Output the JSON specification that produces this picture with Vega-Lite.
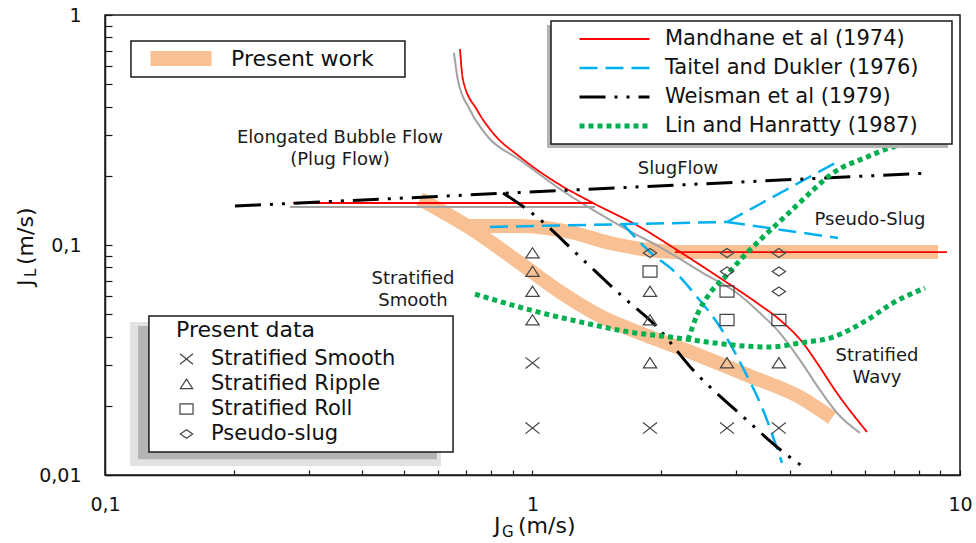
{
  "$schema": "https://vega.github.io/schema/vega-lite/v6.json",
  "width": 855,
  "height": 460,
  "autosize": {"type": "none"},
  "padding": {"left": 105, "top": 15, "right": 16, "bottom": 68},
  "background": "white",
  "config": {
    "view": {"stroke": "#1a1a1a", "strokeWidth": 1.5},
    "font": "DejaVu Sans",
    "axis": {"labelFont": "DejaVu Sans", "labelColor": "#111111", "labelFontSize": 19, "grid": false, "domainColor": "#1a1a1a", "domainWidth": 1.5, "tickColor": "#1a1a1a", "tickWidth": 1.2, "labelFlush": false, "labelOverlap": false, "labelBound": false},
    "legend": {"padding": 0, "labelFont": "DejaVu Sans", "titleFont": "DejaVu Sans", "labelColor": "#111111", "titleColor": "#111111", "titleFontWeight": "normal", "labelLimit": 400}
  },
  "datasets": {
    "curves": [
      {"series": "Mandhane et al (1974)", "seg": "M1", "i": 0, "x": 0.2754, "y": 0.1523},
      {"series": "Mandhane et al (1974)", "seg": "M1", "i": 1, "x": 1.385, "y": 0.1523},
      {"series": "Mandhane et al (1974)", "seg": "M2", "i": 0, "x": 0.6767, "y": 0.7115},
      {"series": "Mandhane et al (1974)", "seg": "M2", "i": 1, "x": 0.6878, "y": 0.5217},
      {"series": "Mandhane et al (1974)", "seg": "M2", "i": 2, "x": 0.7418, "y": 0.3864},
      {"series": "Mandhane et al (1974)", "seg": "M2", "i": 3, "x": 0.8084, "y": 0.3069},
      {"series": "Mandhane et al (1974)", "seg": "M2", "i": 4, "x": 0.9349, "y": 0.2414},
      {"series": "Mandhane et al (1974)", "seg": "M2", "i": 5, "x": 1.141, "y": 0.186},
      {"series": "Mandhane et al (1974)", "seg": "M2", "i": 6, "x": 1.385, "y": 0.1523},
      {"series": "Mandhane et al (1974)", "seg": "M2", "i": 7, "x": 1.784, "y": 0.1198},
      {"series": "Mandhane et al (1974)", "seg": "M2", "i": 8, "x": 2.178, "y": 0.0951},
      {"series": "Mandhane et al (1974)", "seg": "M2", "i": 9, "x": 2.746, "y": 0.0719},
      {"series": "Mandhane et al (1974)", "seg": "M2", "i": 10, "x": 3.351, "y": 0.056},
      {"series": "Mandhane et al (1974)", "seg": "M2", "i": 11, "x": 3.793, "y": 0.0472},
      {"series": "Mandhane et al (1974)", "seg": "M2", "i": 12, "x": 4.293, "y": 0.0375},
      {"series": "Mandhane et al (1974)", "seg": "M2", "i": 13, "x": 4.63, "y": 0.0307},
      {"series": "Mandhane et al (1974)", "seg": "M2", "i": 14, "x": 5.157, "y": 0.0227},
      {"series": "Mandhane et al (1974)", "seg": "M2", "i": 15, "x": 6.06, "y": 0.01538},
      {"series": "Mandhane et al (1974)", "seg": "M3", "i": 0, "x": 2.154, "y": 0.0932},
      {"series": "Mandhane et al (1974)", "seg": "M3", "i": 1, "x": 9.325, "y": 0.0932},
      {"series": "Taitel and Dukler (1976)", "seg": "T1a", "i": 0, "x": 0.7955, "y": 0.1198},
      {"series": "Taitel and Dukler (1976)", "seg": "T1a", "i": 1, "x": 2.851, "y": 0.1259},
      {"series": "Taitel and Dukler (1976)", "seg": "T1b", "i": 0, "x": 2.851, "y": 0.1259},
      {"series": "Taitel and Dukler (1976)", "seg": "T1b", "i": 1, "x": 5.157, "y": 0.2296},
      {"series": "Taitel and Dukler (1976)", "seg": "T2", "i": 0, "x": 2.851, "y": 0.1259},
      {"series": "Taitel and Dukler (1976)", "seg": "T2", "i": 1, "x": 5.184, "y": 0.1073},
      {"series": "Taitel and Dukler (1976)", "seg": "T3", "i": 0, "x": 1.628, "y": 0.1234},
      {"series": "Taitel and Dukler (1976)", "seg": "T3", "i": 1, "x": 1.883, "y": 0.0932},
      {"series": "Taitel and Dukler (1976)", "seg": "T3", "i": 2, "x": 2.178, "y": 0.0748},
      {"series": "Taitel and Dukler (1976)", "seg": "T3", "i": 3, "x": 2.426, "y": 0.0594},
      {"series": "Taitel and Dukler (1976)", "seg": "T3", "i": 4, "x": 2.746, "y": 0.044},
      {"series": "Taitel and Dukler (1976)", "seg": "T3", "i": 5, "x": 3.107, "y": 0.0292},
      {"series": "Taitel and Dukler (1976)", "seg": "T3", "i": 6, "x": 3.461, "y": 0.01917},
      {"series": "Taitel and Dukler (1976)", "seg": "T3", "i": 7, "x": 3.834, "y": 0.01128},
      {"series": "Weisman et al (1979)", "seg": "W1", "i": 0, "x": 0.2014, "y": 0.1477},
      {"series": "Weisman et al (1979)", "seg": "W1", "i": 1, "x": 8.507, "y": 0.2056},
      {"series": "Weisman et al (1979)", "seg": "W2", "i": 0, "x": 0.853, "y": 0.1683},
      {"series": "Weisman et al (1979)", "seg": "W2", "i": 1, "x": 1.0245, "y": 0.1323},
      {"series": "Weisman et al (1979)", "seg": "W2", "i": 2, "x": 1.292, "y": 0.0887},
      {"series": "Weisman et al (1979)", "seg": "W2", "i": 3, "x": 1.628, "y": 0.0594},
      {"series": "Weisman et al (1979)", "seg": "W2", "i": 4, "x": 1.955, "y": 0.044},
      {"series": "Weisman et al (1979)", "seg": "W2", "i": 5, "x": 2.374, "y": 0.0286},
      {"series": "Weisman et al (1979)", "seg": "W2", "i": 6, "x": 3.058, "y": 0.01842},
      {"series": "Weisman et al (1979)", "seg": "W2", "i": 7, "x": 3.938, "y": 0.01222},
      {"series": "Weisman et al (1979)", "seg": "W2", "i": 8, "x": 4.269, "y": 0.01094},
      {"series": "Lin and Hanratty (1987)", "seg": "L1", "i": 0, "x": 0.7336, "y": 0.0612},
      {"series": "Lin and Hanratty (1987)", "seg": "L1", "i": 1, "x": 0.9866, "y": 0.0522},
      {"series": "Lin and Hanratty (1987)", "seg": "L1", "i": 2, "x": 1.292, "y": 0.0463},
      {"series": "Lin and Hanratty (1987)", "seg": "L1", "i": 3, "x": 1.691, "y": 0.0418},
      {"series": "Lin and Hanratty (1987)", "seg": "L1", "i": 4, "x": 2.097, "y": 0.0398},
      {"series": "Lin and Hanratty (1987)", "seg": "L1", "i": 5, "x": 2.374, "y": 0.0386},
      {"series": "Lin and Hanratty (1987)", "seg": "L1", "i": 6, "x": 3.107, "y": 0.0364},
      {"series": "Lin and Hanratty (1987)", "seg": "L1", "i": 7, "x": 3.594, "y": 0.036},
      {"series": "Lin and Hanratty (1987)", "seg": "L1", "i": 8, "x": 4.224, "y": 0.0375},
      {"series": "Lin and Hanratty (1987)", "seg": "L1", "i": 9, "x": 5.046, "y": 0.0398},
      {"series": "Lin and Hanratty (1987)", "seg": "L1", "i": 10, "x": 6.06, "y": 0.0472},
      {"series": "Lin and Hanratty (1987)", "seg": "L1", "i": 11, "x": 6.971, "y": 0.056},
      {"series": "Lin and Hanratty (1987)", "seg": "L1", "i": 12, "x": 8.282, "y": 0.065},
      {"series": "Lin and Hanratty (1987)", "seg": "L2", "i": 0, "x": 2.311, "y": 0.0386},
      {"series": "Lin and Hanratty (1987)", "seg": "L2", "i": 1, "x": 2.426, "y": 0.0496},
      {"series": "Lin and Hanratty (1987)", "seg": "L2", "i": 2, "x": 2.602, "y": 0.0618},
      {"series": "Lin and Hanratty (1987)", "seg": "L2", "i": 3, "x": 2.851, "y": 0.0741},
      {"series": "Lin and Hanratty (1987)", "seg": "L2", "i": 4, "x": 3.107, "y": 0.0887},
      {"series": "Lin and Hanratty (1987)", "seg": "L2", "i": 5, "x": 3.405, "y": 0.1051},
      {"series": "Lin and Hanratty (1987)", "seg": "L2", "i": 6, "x": 3.732, "y": 0.1234},
      {"series": "Lin and Hanratty (1987)", "seg": "L2", "i": 7, "x": 4.068, "y": 0.1434},
      {"series": "Lin and Hanratty (1987)", "seg": "L2", "i": 8, "x": 4.531, "y": 0.1734},
      {"series": "Lin and Hanratty (1987)", "seg": "L2", "i": 9, "x": 5.046, "y": 0.2056},
      {"series": "Lin and Hanratty (1987)", "seg": "L2", "i": 10, "x": 6.06, "y": 0.2414},
      {"series": "Lin and Hanratty (1987)", "seg": "L2", "i": 11, "x": 6.971, "y": 0.2668},
      {"series": "Lin and Hanratty (1987)", "seg": "L2", "i": 12, "x": 7.763, "y": 0.2777},
      {"series": "Lin and Hanratty (1987)", "seg": "L2", "i": 13, "x": 9.224, "y": 0.3008}
    ],
    "mandhaneGray": [
      {"seg": "G1", "i": 0, "x": 0.2709, "y": 0.1463},
      {"seg": "G1", "i": 1, "x": 1.4, "y": 0.1463},
      {"seg": "G2", "i": 0, "x": 0.655, "y": 0.6836},
      {"seg": "G2", "i": 1, "x": 0.669, "y": 0.5217},
      {"seg": "G2", "i": 2, "x": 0.7142, "y": 0.3864},
      {"seg": "G2", "i": 3, "x": 0.787, "y": 0.2948},
      {"seg": "G2", "i": 4, "x": 0.9349, "y": 0.2342},
      {"seg": "G2", "i": 5, "x": 1.141, "y": 0.1788},
      {"seg": "G2", "i": 6, "x": 1.385, "y": 0.142},
      {"seg": "G2", "i": 7, "x": 1.718, "y": 0.1128},
      {"seg": "G2", "i": 8, "x": 1.987, "y": 0.098},
      {"seg": "G2", "i": 9, "x": 2.505, "y": 0.0755},
      {"seg": "G2", "i": 10, "x": 3.008, "y": 0.0618},
      {"seg": "G2", "i": 11, "x": 3.405, "y": 0.0506},
      {"seg": "G2", "i": 12, "x": 3.793, "y": 0.0414},
      {"seg": "G2", "i": 13, "x": 4.224, "y": 0.0316},
      {"seg": "G2", "i": 14, "x": 4.705, "y": 0.0234},
      {"seg": "G2", "i": 15, "x": 5.157, "y": 0.0186},
      {"seg": "G2", "i": 16, "x": 5.837, "y": 0.01523}
    ],
    "band": [
      {"kind": "Present work", "seg": "B1", "i": 0, "x": 0.5456, "y": 0.1585},
      {"kind": "Present work", "seg": "B1", "i": 1, "x": 0.7142, "y": 0.1186},
      {"kind": "Present work", "seg": "B1", "i": 2, "x": 0.9349, "y": 0.0835},
      {"kind": "Present work", "seg": "B1", "i": 3, "x": 1.16, "y": 0.0625},
      {"kind": "Present work", "seg": "B1", "i": 4, "x": 1.438, "y": 0.0491},
      {"kind": "Present work", "seg": "B1", "i": 5, "x": 1.784, "y": 0.0414},
      {"kind": "Present work", "seg": "B1", "i": 6, "x": 2.336, "y": 0.0343},
      {"kind": "Present work", "seg": "B1", "i": 7, "x": 3.228, "y": 0.0269},
      {"kind": "Present work", "seg": "B1", "i": 8, "x": 4.224, "y": 0.0218},
      {"kind": "Present work", "seg": "B1", "i": 9, "x": 5.019, "y": 0.0177},
      {"kind": "Present work", "seg": "B2", "i": 0, "x": 0.6953, "y": 0.121},
      {"kind": "Present work", "seg": "B2", "i": 1, "x": 0.9349, "y": 0.121},
      {"kind": "Present work", "seg": "B2", "i": 2, "x": 1.224, "y": 0.1139},
      {"kind": "Present work", "seg": "B2", "i": 3, "x": 1.518, "y": 0.102},
      {"kind": "Present work", "seg": "B2", "i": 4, "x": 1.883, "y": 0.0951},
      {"kind": "Present work", "seg": "B2", "i": 5, "x": 2.213, "y": 0.0932},
      {"kind": "Present work", "seg": "B2", "i": 6, "x": 8.882, "y": 0.0932}
    ],
    "points": [
      {"regime": "Stratified Ripple", "x": 1.0, "y": 0.0923},
      {"regime": "Stratified Ripple", "x": 1.0, "y": 0.0767},
      {"regime": "Stratified Ripple", "x": 1.0, "y": 0.0628},
      {"regime": "Stratified Ripple", "x": 1.0, "y": 0.0472},
      {"regime": "Stratified Smooth", "x": 1.0, "y": 0.0307},
      {"regime": "Stratified Smooth", "x": 1.0, "y": 0.016},
      {"regime": "Pseudo-slug", "x": 1.883, "y": 0.0923},
      {"regime": "Stratified Roll", "x": 1.883, "y": 0.0767},
      {"regime": "Stratified Ripple", "x": 1.883, "y": 0.0628},
      {"regime": "Stratified Ripple", "x": 1.883, "y": 0.0472},
      {"regime": "Stratified Ripple", "x": 1.883, "y": 0.0307},
      {"regime": "Stratified Smooth", "x": 1.883, "y": 0.016},
      {"regime": "Pseudo-slug", "x": 2.851, "y": 0.0923},
      {"regime": "Pseudo-slug", "x": 2.851, "y": 0.0767},
      {"regime": "Stratified Roll", "x": 2.851, "y": 0.0628},
      {"regime": "Stratified Roll", "x": 2.851, "y": 0.0472},
      {"regime": "Stratified Ripple", "x": 2.851, "y": 0.0307},
      {"regime": "Stratified Smooth", "x": 2.851, "y": 0.016},
      {"regime": "Pseudo-slug", "x": 3.77, "y": 0.0923},
      {"regime": "Pseudo-slug", "x": 3.77, "y": 0.0767},
      {"regime": "Pseudo-slug", "x": 3.77, "y": 0.0628},
      {"regime": "Stratified Roll", "x": 3.77, "y": 0.0472},
      {"regime": "Stratified Ripple", "x": 3.77, "y": 0.0307},
      {"regime": "Stratified Smooth", "x": 3.77, "y": 0.016}
    ],
    "annotations": [
      {"text": "Elongated Bubble Flow\n(Plug Flow)", "x": 0.3546, "y": 0.2777},
      {"text": "SlugFlow", "x": 2.19, "y": 0.2036},
      {"text": "Pseudo-Slug", "x": 6.159, "y": 0.1222},
      {"text": "Stratified\nSmooth", "x": 0.5254, "y": 0.0677},
      {"text": "Stratified\nWavy", "x": 6.395, "y": 0.0313}
    ],
    "frames": [
      {"frame": "lines", "role": "shadow", "x": 1.0812, "x2": 9.375, "y": 0.9048, "y2": 0.2641},
      {"frame": "lines", "role": "box", "x": 1.1048, "x2": 9.578, "y": 0.9417, "y2": 0.2749},
      {"frame": "work", "role": "box", "x": 0.115, "x2": 0.5031, "y": 0.7707, "y2": 0.5377},
      {"frame": "data", "role": "soft", "x": 0.1144, "x2": 0.6109, "y": 0.0463, "y2": 0.01094},
      {"frame": "data", "role": "shadow", "x": 0.1195, "x2": 0.5978, "y": 0.0444, "y2": 0.0117},
      {"frame": "data", "role": "box", "x": 0.1267, "x2": 0.6518, "y": 0.0491, "y2": 0.01259}
    ],
    "axisTitles": [
      {"axis": "x", "part": "main", "text": "J", "x": 0.8128, "y": 0.005595},
      {"axis": "x", "part": "sub", "text": "G", "x": 0.8484, "y": 0.005375},
      {"axis": "x", "part": "main", "text": "(m/s)", "x": 0.9249, "y": 0.005595},
      {"axis": "y", "part": "main", "text": "J", "x": 0.06785, "y": 0.06633},
      {"axis": "y", "part": "sub", "text": "L", "x": 0.069, "y": 0.07259},
      {"axis": "y", "part": "main", "text": "(m/s)", "x": 0.06785, "y": 0.08185}
    ]
  },
  "encoding": {
    "x": {
      "field": "x", "type": "quantitative",
      "scale": {"type": "log", "domain": [0.1, 10], "nice": false, "zero": false},
      "axis": {
        "title": null,
        "values": [0.1, 0.2, 0.3, 0.4, 0.5, 0.6, 0.7, 0.8, 0.9, 1, 2, 3, 4, 5, 6, 7, 8, 9, 10],
        "labelExpr": "datum.value === 0.1 ? '0,1' : datum.value === 1 ? '1' : datum.value === 10 ? '10' : ''",
        "tickSize": -5,
        "labelPadding": 25
      }
    },
    "y": {
      "field": "y", "type": "quantitative",
      "scale": {"type": "log", "domain": [0.01, 1], "nice": false, "zero": false},
      "axis": {
        "title": null,
        "values": [0.01, 0.02, 0.03, 0.04, 0.05, 0.06, 0.07, 0.08, 0.09, 0.1, 0.2, 0.3, 0.4, 0.5, 0.6, 0.7, 0.8, 0.9, 1],
        "labelExpr": "datum.value === 0.01 ? '0,01' : datum.value === 0.1 ? '0,1' : datum.value === 1 ? '1' : ''",
        "tickSize": -7,
        "labelPadding": 31
      }
    }
  },
  "layer": [
    {
      "data": {"name": "band"},
      "mark": {"type": "line", "strokeWidth": 14, "strokeCap": "butt", "strokeJoin": "round", "interpolate": "monotone"},
      "encoding": {
        "color": {
          "field": "kind", "type": "nominal",
          "scale": {"domain": ["Present work"], "range": ["#f9c193"]},
          "legend": {"orient": "none", "legendX": 38, "legendY": 33.5, "title": null, "symbolType": "stroke", "symbolSize": 3721, "symbolStrokeWidth": 15, "clipHeight": 20, "labelOffset": 12, "labelFontSize": 22}
        },
        "detail": {"field": "seg"},
        "order": {"field": "i", "type": "quantitative"}
      }
    },
    {
      "data": {"name": "mandhaneGray"},
      "mark": {"type": "line", "color": "#a3a3a3", "strokeWidth": 2, "interpolate": "monotone"},
      "encoding": {
        "detail": {"field": "seg"},
        "order": {"field": "i", "type": "quantitative"}
      }
    },
    {
      "data": {"name": "curves"},
      "mark": {"type": "line", "strokeCap": "butt", "interpolate": "monotone"},
      "encoding": {
        "color": {
          "field": "series", "type": "nominal",
          "scale": {"domain": ["Mandhane et al (1974)", "Taitel and Dukler (1976)", "Weisman et al (1979)", "Lin and Hanratty (1987)"], "range": ["#ff0000", "#00b0f0", "#000000", "#00b050"]},
          "legend": {"orient": "none", "legendX": 472, "legendY": 13.5, "title": null, "symbolType": "stroke", "symbolSize": 4900, "clipHeight": 21, "rowPadding": 7, "labelOffset": 13, "labelFontSize": 21}
        },
        "strokeDash": {
          "field": "series", "type": "nominal",
          "scale": {"domain": ["Mandhane et al (1974)", "Taitel and Dukler (1976)", "Weisman et al (1979)", "Lin and Hanratty (1987)"], "range": [[1, 0], [18, 8], [26, 9, 3, 9, 3, 9], [5, 4]]},
          "legend": {"orient": "none", "legendX": 472, "legendY": 13.5, "title": null, "symbolType": "stroke", "symbolSize": 4900, "clipHeight": 21, "rowPadding": 7, "labelOffset": 13, "labelFontSize": 21}
        },
        "strokeWidth": {
          "field": "series", "type": "nominal",
          "scale": {"type": "ordinal", "domain": ["Mandhane et al (1974)", "Taitel and Dukler (1976)", "Weisman et al (1979)", "Lin and Hanratty (1987)"], "range": [1.8, 2.5, 3, 5]},
          "legend": {"orient": "none", "legendX": 472, "legendY": 13.5, "title": null, "symbolType": "stroke", "symbolSize": 4900, "clipHeight": 21, "rowPadding": 7, "labelOffset": 13, "labelFontSize": 21}
        },
        "detail": {"field": "seg"},
        "order": {"field": "i", "type": "quantitative"}
      }
    },
    {
      "data": {"name": "points"},
      "mark": {"type": "point", "filled": false, "color": "#444444", "size": 196, "strokeWidth": 1.2, "opacity": 1},
      "encoding": {
        "shape": {
          "field": "regime", "type": "nominal",
          "scale": {
            "domain": ["Stratified Smooth", "Stratified Ripple", "Stratified Roll", "Pseudo-slug"],
            "range": ["M-1,-0.8L1,0.8M1,-0.8L-1,0.8", "M-0.95,0.7L0.95,0.7L0,-0.75Z", "M-1,-0.8L1,-0.8L1,0.8L-1,0.8Z", "M0,-0.65L0.95,0L0,0.65L-0.95,0Z"]
          },
          "legend": {"orient": "none", "legendX": 71, "legendY": 305, "title": "Present data", "titleFontSize": 22, "titlePadding": 6, "symbolSize": 170, "symbolStrokeWidth": 1.2, "symbolStrokeColor": "#444444", "symbolFillColor": "transparent", "clipHeight": 22, "rowPadding": 3, "labelOffset": 14, "labelFontSize": 21}
        }
      }
    },
    {
      "data": {"name": "annotations"},
      "mark": {"type": "text", "font": "DejaVu Sans", "fontSize": 18, "lineBreak": "\n", "lineHeight": 22, "align": "center", "baseline": "alphabetic", "color": "#1a1a1a"},
      "encoding": {"text": {"field": "text"}}
    },
    {
      "data": {"name": "frames"},
      "transform": [{"filter": "datum.role === 'soft'"}],
      "mark": {"type": "rect", "fill": "#e2e2e2"},
      "encoding": {"x2": {"field": "x2"}, "y2": {"field": "y2"}}
    },
    {
      "data": {"name": "frames"},
      "transform": [{"filter": "datum.role === 'shadow'"}],
      "mark": {"type": "rect", "fill": "#b4b4b4"},
      "encoding": {"x2": {"field": "x2"}, "y2": {"field": "y2"}}
    },
    {
      "data": {"name": "frames"},
      "transform": [{"filter": "datum.role === 'box'"}],
      "mark": {"type": "rect", "fill": "#ffffff", "stroke": "#1a1a1a", "strokeWidth": 1.5},
      "encoding": {"x2": {"field": "x2"}, "y2": {"field": "y2"}}
    },
    {
      "data": {"name": "axisTitles"},
      "transform": [{"filter": "datum.axis === 'x' && datum.part === 'main'"}],
      "mark": {"type": "text", "font": "DejaVu Sans", "fontSize": 22, "align": "left", "baseline": "alphabetic", "color": "#111111"},
      "encoding": {"text": {"field": "text"}}
    },
    {
      "data": {"name": "axisTitles"},
      "transform": [{"filter": "datum.axis === 'x' && datum.part === 'sub'"}],
      "mark": {"type": "text", "font": "DejaVu Sans", "fontSize": 15, "align": "left", "baseline": "alphabetic", "color": "#111111"},
      "encoding": {"text": {"field": "text"}}
    },
    {
      "data": {"name": "axisTitles"},
      "transform": [{"filter": "datum.axis === 'y' && datum.part === 'main'"}],
      "mark": {"type": "text", "font": "DejaVu Sans", "fontSize": 22, "align": "left", "baseline": "alphabetic", "angle": 270, "color": "#111111"},
      "encoding": {"text": {"field": "text"}}
    },
    {
      "data": {"name": "axisTitles"},
      "transform": [{"filter": "datum.axis === 'y' && datum.part === 'sub'"}],
      "mark": {"type": "text", "font": "DejaVu Sans", "fontSize": 15, "align": "left", "baseline": "alphabetic", "angle": 270, "color": "#111111"},
      "encoding": {"text": {"field": "text"}}
    }
  ],
  "resolve": {"scale": {"color": "independent", "shape": "independent", "strokeDash": "independent", "strokeWidth": "independent"}}
}
